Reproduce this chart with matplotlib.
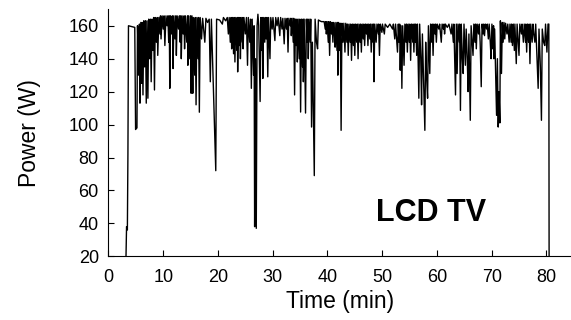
import matplotlib
matplotlib.use("Agg")
import matplotlib.pyplot as plt

plt.rcParams['font.family'] = ['Liberation Sans', 'DejaVu Sans']

# power trace of the LCD TV (time in minutes, power in W)
time_min = [
    3.2, 3.3, 3.45, 3.55, 3.65, 4.8, 4.95, 5.2, 5.3, 5.5, 5.65, 5.75, 5.9, 6.05, 6.15, 6.3,
    6.45, 6.6, 6.75, 6.9, 7.05, 7.2, 7.35, 7.5, 7.65, 7.8, 7.95, 8.1, 8.25, 8.4, 8.55, 8.75,
    8.9, 9.0, 9.2, 9.4, 9.5, 9.6, 9.8, 10.0, 10.15, 10.3, 10.5, 10.7, 10.85, 11.0, 11.1, 11.2,
    11.35, 11.55, 11.7, 11.8, 11.95, 12.15, 12.3, 12.4, 12.55, 12.8, 12.95, 13.1, 13.2, 13.3,
    13.45, 13.65, 13.8, 13.9, 14.05, 14.3, 14.45, 14.5, 14.65, 14.85, 15.0, 15.1, 15.25, 15.4,
    15.5, 15.75, 15.85, 16.0, 16.15, 16.35, 16.45, 16.6, 16.75, 17.0, 17.2, 17.6, 17.8, 18.1,
    18.4, 18.6, 18.8, 19.6, 19.75, 20.3, 20.8, 21.0, 21.4, 21.7, 21.9, 22.05, 22.25, 22.4,
    22.5, 22.65, 22.85, 22.95, 23.1, 23.25, 23.45, 23.55, 23.6, 23.75, 23.9, 24.0, 24.1, 24.25,
    24.45, 24.55, 24.6, 24.75, 25.0, 25.2, 25.4, 25.55, 25.8, 25.95, 26.1, 26.25, 26.5, 26.6,
    26.7, 26.85, 27.0, 27.15, 27.3, 27.45, 27.7, 27.85, 28.0, 28.1, 28.2, 28.35, 28.55, 28.65,
    28.8, 28.95, 29.1, 29.25, 29.5, 29.65, 29.9, 30.05, 30.4, 30.55, 30.8, 31.0, 31.3, 31.45,
    31.7, 31.85, 32.1, 32.25, 32.5, 32.65, 32.8, 32.95, 33.2, 33.3, 33.4, 33.55, 33.75, 33.85,
    34.0, 34.15, 34.3, 34.4, 34.5, 34.65, 34.85, 34.95, 35.1, 35.25, 35.45, 35.55, 35.6, 35.75,
    36.0, 36.15, 36.3, 36.4, 36.5, 36.65, 36.85, 36.95, 37.1, 37.25, 37.6, 37.75, 38.0, 38.2,
    38.35, 38.6, 38.9, 39.4, 39.6, 39.7, 39.8, 39.95, 40.15, 40.25, 40.4, 40.55, 40.75, 40.85,
    41.0, 41.15, 41.3, 41.4, 41.55, 41.75, 41.85, 41.9, 42.05, 42.25, 42.35, 42.5, 42.65, 42.85,
    43.0, 43.2, 43.35, 43.55, 43.65, 43.8, 43.95, 44.15, 44.25, 44.4, 44.55, 44.75, 44.85, 45.0,
    45.15, 45.35, 45.45, 45.6, 45.75, 45.95, 46.05, 46.2, 46.35, 46.55, 46.65, 46.8, 46.95,
    47.15, 47.25, 47.4, 47.55, 47.75, 47.85, 48.0, 48.15, 48.35, 48.4, 48.5, 48.65, 48.9,
    49.05, 49.3, 49.35, 49.5, 49.65, 49.95, 50.05, 50.4, 50.55, 51.0, 51.4, 51.9, 52.05, 52.3,
    52.45, 52.8, 52.95, 53.1, 53.2, 53.3, 53.45, 53.6, 53.75, 54.0, 54.15, 54.35, 54.45, 54.6,
    54.75, 54.95, 55.05, 55.2, 55.35, 55.6, 55.65, 55.8, 55.95, 56.1, 56.15, 56.3, 56.45, 56.7,
    56.85, 57.05, 57.2, 57.35, 57.55, 57.8, 57.95, 58.1, 58.3, 58.45, 58.7, 58.85, 59.05,
    59.15, 59.3, 59.45, 59.65, 59.75, 59.9, 60.05, 60.35, 60.5, 60.8, 60.95, 61.2, 61.3, 61.4,
    61.55, 61.9, 62.2, 62.6, 62.75, 63.0, 63.1, 63.4, 63.55, 63.7, 63.85, 64.1, 64.15, 64.3,
    64.45, 64.65, 64.8, 64.95, 65.2, 65.35, 65.55, 65.7, 65.85, 66.1, 66.25, 66.45, 66.6,
    66.75, 66.95, 67.05, 67.2, 67.35, 67.6, 67.75, 67.9, 68.1, 68.25, 68.45, 68.55, 68.7,
    68.85, 69.1, 69.2, 69.4, 69.55, 69.75, 69.9, 70.05, 70.2, 70.35, 70.4, 70.55, 70.9, 71.05,
    71.2, 71.35, 71.5, 71.6, 71.8, 71.95, 72.1, 72.25, 72.4, 72.55, 72.8, 72.95, 73.2, 73.35,
    73.55, 73.65, 73.8, 73.95, 74.15, 74.25, 74.5, 74.65, 74.85, 75.0, 75.15, 75.45, 75.55,
    75.8, 75.95, 76.2, 76.25, 76.4, 76.55, 76.75, 76.85, 77.0, 77.15, 77.4, 77.55, 77.7, 77.9,
    78.05, 78.3, 78.5, 78.65, 78.9, 79.1, 79.25, 79.5, 79.7, 79.85, 80.1, 80.3, 80.45, 80.5,
]
power_w = [
    20, 38, 36, 82, 160, 159, 97, 98, 160, 130, 161, 113, 162, 125, 162, 118,
    163, 135, 163, 113, 163, 116, 164, 140, 164, 126, 164, 145, 165, 121, 165, 150,
    165, 142, 165, 155, 166, 152, 166, 158, 166, 148, 166, 160, 166, 150, 166, 122,
    166, 155, 166, 134, 166, 152, 166, 142, 166, 158, 166, 150, 166, 140,
    166, 155, 166, 146, 166, 150, 166, 136, 166, 140, 166, 119, 166, 119,
    165, 130, 165, 112, 165, 140, 165, 107.5, 165, 152, 164.5, 150, 164.5, 162,
    164, 126, 164, 72, 164, 163.5, 161, 165, 163, 165, 155, 165, 150, 165,
    146, 165, 143, 165, 138, 165, 145, 165, 132, 165, 148, 165, 140, 165,
    150, 165, 146, 165, 155, 165, 136, 165, 150, 164, 122, 164, 130, 160,
    38, 140, 37, 160, 167, 160, 114, 165, 145, 165, 128, 165, 150, 165,
    152, 165, 129, 165, 140, 165, 158, 165, 151, 165, 160, 165, 154, 165,
    158, 164.5, 149, 164.5, 158, 164.5, 144, 164.5, 160, 164.5, 154, 164.5, 150, 164.5,
    118, 164, 148, 164, 138, 164, 140, 164, 107.6, 164, 135, 164, 126, 164,
    107, 164, 150, 164, 140, 164, 150, 164, 98.5, 150, 69, 164, 150, 146,
    163.5, 163, 162.5, 162.5, 158, 162.5, 155, 162.5, 150, 162.5, 142, 162.5, 155, 162,
    150, 162, 155, 147, 162, 145, 162, 130, 162, 145, 161.5, 96.5, 161.5, 150,
    161.5, 144, 161.5, 150, 161, 142, 161, 150, 161, 139, 161, 148, 161, 142,
    161, 150, 161, 140, 161, 150, 161, 144, 161, 152, 161, 148, 161,
    155, 161, 148, 161, 152, 161, 144, 161, 150, 161, 126, 161, 150,
    161, 155, 161, 142, 161, 156, 161, 155, 161, 159, 161, 158, 161, 152,
    161, 144, 161, 150, 161, 133, 160, 122, 160, 136, 161, 150, 161, 144,
    161, 150, 161, 139, 161, 150, 161, 144, 161, 150, 161, 142, 161, 116,
    161, 140, 112, 155, 130, 96.5, 150, 130, 116, 160, 131, 161, 150,
    161, 142, 161, 155, 161, 150, 161, 158, 161, 150, 161, 158, 161, 155,
    161, 159, 161, 155, 161, 150, 161, 118, 161, 131, 161, 150, 161, 108.6,
    161, 140, 131, 161, 136, 158, 140, 120, 155, 102.6, 160, 150, 142,
    161, 150, 161, 146, 161, 155, 161, 150, 123, 161, 155, 161, 154,
    161, 158, 161, 152, 161, 150, 140, 161, 146, 160, 140, 158, 105.6, 140,
    98.5, 120, 101, 163, 131, 162, 150, 162, 152, 161.5, 155, 161, 150, 161,
    150, 161, 148, 161, 145, 161, 137, 161, 150, 142, 161, 155, 161,
    150, 161, 150, 161, 144, 161, 150, 161, 137, 161, 150, 161, 155, 150,
    161, 140, 122, 158, 135, 102.6, 158, 150, 148, 161, 144, 161, 161, 20,
]

x_ticks = [0, 10, 20, 30, 40, 50, 60, 70, 80]
y_ticks = [20, 40, 60, 80, 100, 120, 140, 160]

fig = plt.figure(figsize=(5.71, 3.2), dpi=100)
ax = fig.add_axes([0.19, 0.199, 0.81, 0.772])

ax.plot(time_min, power_w, color='black', lw=1.0)

ax.set_xlim(0, 84.5)
ax.set_ylim(20, 170)
ax.set_xticks(x_ticks)
ax.set_yticks(y_ticks)
ax.tick_params(direction='in', length=4, width=0.8, labelsize=13)
ax.tick_params(axis='x', pad=9)
ax.tick_params(axis='y', pad=7)
ax.spines['top'].set_visible(False)
ax.spines['right'].set_visible(False)

ax.set_xlabel('Time (min)', fontsize=16.5)
ax.set_ylabel('Power (W)', fontsize=16.5)
ax.yaxis.set_label_coords(-0.146, 0.5)
ax.xaxis.set_label_coords(0.5, -0.135)

ax.text(58.9, 46.5, 'LCD TV', fontsize=22, fontweight='bold',
        ha='center', va='center')

fig.savefig('out.png', dpi=100)
